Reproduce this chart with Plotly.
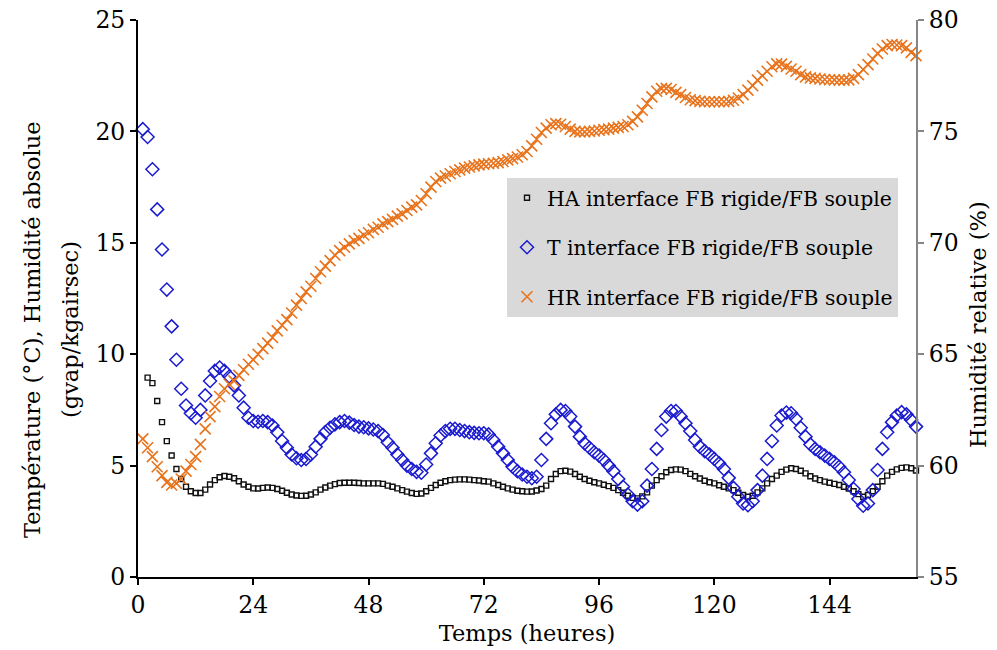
import plotly.graph_objects as go

hours = list(range(1, 163))
hours_ha = list(range(2, 163))

T = [20.1, 19.75, 18.3, 16.5, 14.7, 12.9, 11.25, 9.75, 8.45, 7.7,
     7.35, 7.15, 7.5, 8.15, 8.8, 9.25, 9.4, 9.25, 9.0, 8.6,
     8.15, 7.6, 7.15, 7.0, 6.97, 7.0, 6.95, 6.8, 6.5, 6.1,
     5.8, 5.5, 5.33, 5.25, 5.3, 5.5, 5.85, 6.2, 6.5, 6.7,
     6.85, 6.95, 7.0, 6.93, 6.82, 6.75, 6.72, 6.67, 6.62, 6.55,
     6.37, 6.05, 5.8, 5.5, 5.25, 5.0, 4.85, 4.72, 4.68, 5.05,
     5.55, 6.0, 6.35, 6.55, 6.65, 6.65, 6.6, 6.55, 6.5, 6.47,
     6.45, 6.45, 6.4, 6.15, 5.85, 5.55, 5.25, 4.95, 4.75, 4.6,
     4.5, 4.43, 4.5, 5.25, 6.2, 6.9, 7.3, 7.5, 7.45, 7.2,
     6.75, 6.3, 6.0, 5.8, 5.6, 5.45, 5.25, 5.0, 4.75, 4.4,
     4.05, 3.7, 3.4, 3.25, 3.4, 4.1, 4.85, 5.75, 6.6, 7.2,
     7.45, 7.45, 7.2, 6.9, 6.55, 6.15, 5.85, 5.65, 5.5, 5.3,
     5.1, 4.85, 4.45, 4.0, 3.6, 3.3, 3.22, 3.4, 3.9, 4.55,
     5.3, 6.1, 6.8, 7.25, 7.38, 7.35, 7.1, 6.7, 6.3, 5.95,
     5.75, 5.6, 5.45, 5.3, 5.15, 4.95, 4.7, 4.35, 3.95, 3.5,
     3.2, 3.3, 3.9, 4.8, 5.75, 6.5, 6.95, 7.25, 7.4, 7.3,
     7.05, 6.75]

HR = [61.2, 60.8, 60.4, 59.95, 59.55, 59.25, 59.13, 59.2, 59.4, 59.75,
      60.05, 60.4, 60.95, 61.65, 62.2, 62.65, 63.1, 63.45, 63.65, 63.8,
      64.05, 64.3, 64.55, 64.75, 65.0, 65.25, 65.5, 65.75, 66.05, 66.3,
      66.55, 66.85, 67.2, 67.5, 67.8, 68.05, 68.4, 68.7, 68.95, 69.2,
      69.45, 69.65, 69.8, 69.95, 70.1, 70.2, 70.35, 70.45, 70.6, 70.7,
      70.85, 70.95, 71.05, 71.2, 71.3, 71.45, 71.6, 71.7, 71.9, 72.2,
      72.5, 72.75, 72.9, 73.0, 73.1, 73.2, 73.27, 73.35, 73.4, 73.45,
      73.5, 73.53, 73.55, 73.57, 73.6, 73.65, 73.72, 73.78, 73.85, 73.95,
      74.1, 74.35, 74.65, 74.95, 75.15, 75.3, 75.35, 75.32, 75.22, 75.1,
      75.0, 74.98, 74.98, 75.0, 75.02, 75.05, 75.08, 75.1, 75.15, 75.18,
      75.22, 75.3, 75.45, 75.65, 75.95, 76.25, 76.55, 76.8, 76.92, 76.93,
      76.88, 76.75, 76.65, 76.52, 76.42, 76.38, 76.35, 76.33, 76.33, 76.33,
      76.33, 76.33, 76.35, 76.4, 76.5, 76.65, 76.85, 77.05, 77.3, 77.5,
      77.7, 77.9, 78.03, 78.02, 77.92, 77.8, 77.7, 77.55, 77.45, 77.4,
      77.38, 77.35, 77.33, 77.32, 77.31, 77.3, 77.3, 77.31, 77.38, 77.55,
      77.78, 78.0, 78.25, 78.5, 78.7, 78.85, 78.9, 78.88, 78.85, 78.75,
      78.55, 78.4]

HA = [8.95, 8.7, 7.9, 6.95, 6.1, 5.45, 4.85, 4.4, 4.05,
      3.85, 3.77, 3.77, 3.92, 4.15, 4.35, 4.48, 4.53, 4.5, 4.43,
      4.3, 4.15, 4.05, 3.98, 3.97, 4.0, 4.02, 4.0, 3.95, 3.87,
      3.78, 3.7, 3.66, 3.64, 3.65, 3.7, 3.8, 3.92, 4.02, 4.1,
      4.17, 4.22, 4.23, 4.23, 4.23, 4.22, 4.2, 4.2, 4.2, 4.2,
      4.18, 4.1, 4.05, 3.98, 3.9, 3.83, 3.77, 3.73, 3.75, 3.85,
      4.0, 4.13, 4.23, 4.3, 4.35, 4.37, 4.38, 4.38, 4.37, 4.35,
      4.33, 4.3, 4.28, 4.2, 4.13, 4.05, 3.98, 3.92, 3.87, 3.85,
      3.83, 3.84, 3.88, 3.95, 4.1, 4.4, 4.62, 4.75, 4.77, 4.73,
      4.62, 4.5, 4.4, 4.32, 4.25, 4.2, 4.14, 4.08, 4.0, 3.9,
      3.78, 3.65, 3.55, 3.53, 3.62, 3.8, 4.1, 4.35, 4.52, 4.7,
      4.8, 4.83, 4.82, 4.75, 4.63, 4.52, 4.42, 4.32, 4.25, 4.2,
      4.12, 4.05, 3.98, 3.9, 3.78, 3.68, 3.6, 3.65, 3.8, 3.98,
      4.2, 4.4, 4.55, 4.72, 4.82, 4.88, 4.85, 4.77, 4.65, 4.52,
      4.42, 4.35, 4.28, 4.23, 4.18, 4.13, 4.05, 3.97, 3.85, 3.72,
      3.6, 3.68, 3.85, 4.05, 4.3, 4.55, 4.72, 4.83, 4.9, 4.92,
      4.88, 4.78]

x_ticks = [0, 24, 48, 72, 96, 120, 144]
names = ["HA interface FB rigide/FB souple",
         "T interface FB rigide/FB souple",
         "HR interface FB rigide/FB souple"]

FONT = "DejaVu Serif"

fig = go.Figure()
fig.add_trace(go.Scatter(
    x=hours_ha, y=HA, mode="markers", name=names[0], legendgroup="a",
    marker=dict(symbol="square-open", size=5, color="#111111",
                line=dict(width=1.4, color="#111111")),
    cliponaxis=False))
fig.add_trace(go.Scatter(
    x=hours, y=T, mode="markers", name=names[1], legendgroup="b",
    marker=dict(symbol="diamond-open", size=10, color="#1a1ad0",
                line=dict(width=1.5, color="#1a1ad0")),
    cliponaxis=False))
fig.add_trace(go.Scatter(
    x=hours, y=HR, mode="markers", name=names[2], legendgroup="c",
    yaxis="y2",
    marker=dict(symbol="x-thin-open", size=11, color="#E8731C",
                line=dict(width=1.6, color="#E8731C")),
    cliponaxis=False))

fig.update_layout(
    width=997, height=650,
    margin=dict(l=138, r=81, t=20, b=73, autoexpand=False),
    paper_bgcolor="white", plot_bgcolor="white",
    font=dict(family=FONT, size=22, color="black"),
    showlegend=True,
    legend=dict(
        x=(507 - 138) / 778, y=1 - (178 - 20) / 557,
        xanchor="left", yanchor="top",
        bgcolor="#d9d9d9", borderwidth=0,
        font=dict(family=FONT, size=20.4, color="black"),
        tracegroupgap=20,
    ),
    xaxis=dict(
        range=[0, 162], tickmode="array", tickvals=x_ticks,
        showline=True, linecolor="black", linewidth=2,
        ticks="outside", ticklen=6, tickwidth=1.5, tickcolor="black",
        showgrid=False, zeroline=False, automargin=False,
        ticklabeloverflow="allow",
        tickfont=dict(family=FONT, size=23.5),
        title=dict(text="Temps (heures)", font=dict(family=FONT, size=22.5), standoff=7),
    ),
    yaxis=dict(
        range=[0, 25], dtick=5,
        showline=True, linecolor="black", linewidth=2,
        ticks="outside", ticklen=6, tickwidth=1.5, tickcolor="black",
        showgrid=False, zeroline=False, automargin=False,
        ticklabeloverflow="allow",
        tickfont=dict(family=FONT, size=23.5),
    ),
    yaxis2=dict(
        range=[55, 80], dtick=5, overlaying="y", side="right",
        showline=True, linecolor="#868686", linewidth=2,
        ticks="outside", ticklen=6, tickwidth=1.5, tickcolor="#868686",
        showgrid=False, zeroline=False, automargin=False,
        ticklabeloverflow="allow",
        tickfont=dict(family=FONT, size=23.5, color="black"),
    ),
    annotations=[
        dict(text="Température (°C), Humidité absolue", textangle=-90,
             xref="paper", yref="paper", x=(32 - 138) / 778, y=0.4434,
             xanchor="center", yanchor="middle", showarrow=False,
             font=dict(family=FONT, size=22.5)),
        dict(text="(gvap/kgairsec)", textangle=-90,
             xref="paper", yref="paper", x=(70 - 138) / 778, y=0.4434,
             xanchor="center", yanchor="middle", showarrow=False,
             font=dict(family=FONT, size=22.5)),
        dict(text="Humidité relative (%)", textangle=-90,
             xref="paper", yref="paper", x=(978 - 138) / 778, y=0.4524,
             xanchor="center", yanchor="middle", showarrow=False,
             font=dict(family=FONT, size=22.5)),
    ],
)

fig.write_html("out.html",
               config={"displayModeBar": False},
               post_script="document.body.style.margin='0';document.body.style.overflow='hidden';")
